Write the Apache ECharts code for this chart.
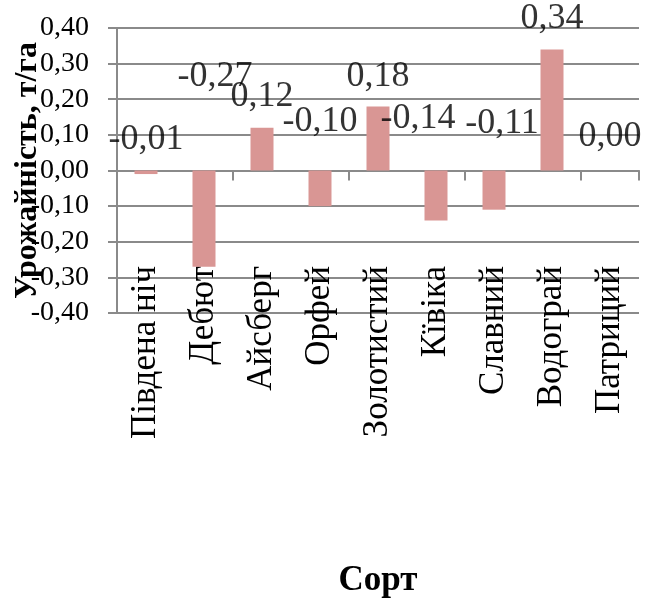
<!DOCTYPE html>
<html><head><meta charset="utf-8">
<script src="https://cdn.jsdelivr.net/npm/echarts@6/dist/echarts.min.js"></script>
<style>html,body{margin:0;padding:0;background:#fff}#c{width:651px;height:598px}</style>
</head><body><div id="c"></div>
<script>
const categories = ['Південа ніч','Дебют','Айсберг','Орфей','Золотистий','Кївіка','Славний','Водограй','Патриций'];
const values = [-0.01, -0.27, 0.12, -0.10, 0.18, -0.14, -0.11, 0.34, 0.00];
// where the value labels sit (axis units), as placed in the original
const labelAnchors = [0.087, 0.264, 0.208, 0.138, 0.264, 0.146, 0.132, 0.427, 0.096];
// horizontal nudges of the value labels (px), as placed in the original
const labelShiftX = [0, 11, 0, 0, 0, -18, 8, 0, 0];
const yTicks = {min: -0.4, max: 0.4, interval: 0.1};
const fmt = v => v.toFixed(2).replace('.', ',');
const serif = '"Liberation Serif","Times New Roman",serif';
const gridColor = '#8a8a8a';

const chart = echarts.init(document.getElementById('c'), null, {renderer: 'canvas'});
chart.setOption({
  animation: false,
  backgroundColor: '#fff',
  grid: {left: 117, right: 12, top: 28, bottom: 285, containLabel: false, outerBoundsMode: 'none'},
  xAxis: [{
    type: 'category', data: categories, boundaryGap: true,
    axisLine: {onZero: true, lineStyle: {color: gridColor, width: 2}},
    axisTick: {show: true, length: 10, lineStyle: {color: gridColor, width: 2}},
    axisLabel: {show: false}, splitLine: {show: false}
  }, {
    type: 'category', data: categories, position: 'bottom', boundaryGap: true,
    axisLine: {show: false}, axisTick: {show: false},
    axisLabel: {rotate: 90, margin: -47, fontFamily: serif, fontSize: 35, color: '#000', interval: 0},
    name: 'Сорт', nameLocation: 'middle', nameGap: 250, nameMoveOverlap: false,
    nameTextStyle: {fontFamily: serif, fontSize: 35, fontWeight: 'bold', color: '#000'}
  }],
  yAxis: {
    type: 'value', min: yTicks.min, max: yTicks.max, interval: yTicks.interval,
    axisLine: {show: true, lineStyle: {color: gridColor, width: 2}},
    axisTick: {show: true, length: 9, lineStyle: {color: gridColor, width: 2}},
    splitLine: {show: true, lineStyle: {color: gridColor, width: 2}},
    axisLabel: {formatter: v => fmt(v), margin: 28, fontFamily: serif, fontSize: 28, color: '#000'},
    name: 'Урожайність, т/га', nameLocation: 'middle', nameGap: 73, nameRotate: 90, nameMoveOverlap: false,
    nameTextStyle: {fontFamily: serif, fontSize: 32, fontWeight: 'bold', color: '#000'}
  },
  series: [{
    type: 'bar', data: values, xAxisIndex: 0, barWidth: 23,
    itemStyle: {color: '#d99694'}
  }, {
    type: 'scatter', xAxisIndex: 0, clip: false, symbolSize: 1,
    itemStyle: {color: 'rgba(0,0,0,0)'},
    data: labelAnchors.map((a, i) => ({value: [i, a], label: {offset: [labelShiftX[i], 0]}})),
    label: {show: true, position: 'inside', formatter: p => fmt(values[p.dataIndex]),
      fontFamily: serif, fontSize: 36, color: '#000'},
    z: 10
  }]
});
</script></body></html>
